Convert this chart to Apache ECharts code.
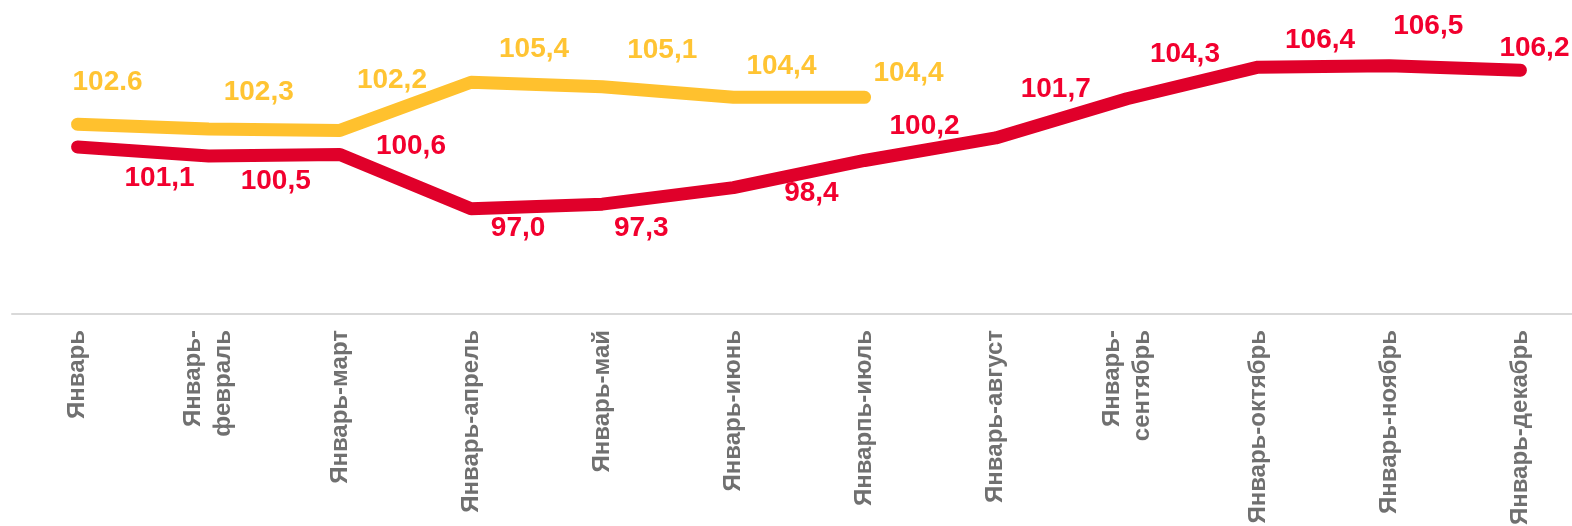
<!DOCTYPE html>
<html>
<head>
<meta charset="utf-8">
<script src="https://cdn.jsdelivr.net/npm/echarts@6/dist/echarts.min.js"></script>
<style>
  html, body { margin: 0; padding: 0; background: #fff; }
  #main { width: 1572px; height: 526px; }
</style>
</head>
<body>
<div id="main"></div>
<script>
const months = [
  'Январь', 'Январь-\nфевраль', 'Январь-март', 'Январь-апрель', 'Январь-май',
  'Январь-июнь', 'Январпь-июль', 'Январь-август', 'Январь-\nсентябрь',
  'Январь-октябрь', 'Январь-ноябрь', 'Январь-декабрь'
];

const yellowValues = [102.6, 102.3, 102.2, 105.4, 105.1, 104.4, 104.4];
const yellowLabels = ['102.6', '102,3', '102,2', '105,4', '105,1', '104,4', '104,4'];

const redValues = [101.1, 100.5, 100.6, 97.0, 97.3, 98.4, 100.2, 101.7, 104.3, 106.4, 106.5, 106.2];
const redLabels = ['101,1', '100,5', '100,6', '97,0', '97,3', '98,4', '100,2', '101,7', '104,3', '106,4', '106,5', '106,2'];

// label nudges (px) relative to each point
const yellowOffsets = [[30, -42], [50, -37], [52, -50], [63, -33], [60, -36], [48, -31], [44, -24]];
const redOffsets = [[82, 31], [67, 25], [71, -8], [47, 20], [39, 24], [78, 6], [60, -34], [60, -49], [58, -45], [62, -27], [39, -39], [14, -22]];

function withLabels(values, texts, offsets) {
  return values.map((v, i) => ({
    value: v,
    label: { offset: offsets[i], formatter: () => texts[i] }
  }));
}

const chart = echarts.init(document.getElementById('main'));

const labelBase = {
  show: true,
  position: 'inside',
  align: 'center',
  verticalAlign: 'middle',
  fontFamily: 'Liberation Sans',
  fontWeight: 'bold',
  fontSize: 28
};

chart.setOption({
  animation: false,
  grid: { left: 12, width: 1574, top: 13, bottom: 212, outerBoundsMode: 'none', containLabel: false },
  xAxis: {
    type: 'category',
    data: months,
    axisLine: { lineStyle: { color: '#d9d9d9', width: 2 } },
    axisTick: { show: false },
    axisLabel: {
      rotate: 90,
      margin: 16,
      color: '#707070',
      fontFamily: 'Liberation Sans',
      fontWeight: 'bold',
      fontSize: 24,
      lineHeight: 30,
      interval: 0
    }
  },
  yAxis: { type: 'value', min: 90, max: 110, show: false },
  series: [
    {
      type: 'line',
      data: withLabels(yellowValues, yellowLabels, yellowOffsets),
      symbol: 'circle',
      symbolSize: 1,
      itemStyle: { color: '#ffc12e' },
      lineStyle: { color: '#ffc12e', width: 13, cap: 'round', join: 'round' },
      label: Object.assign({ color: '#ffc433' }, labelBase)
    },
    {
      type: 'line',
      data: withLabels(redValues, redLabels, redOffsets),
      symbol: 'circle',
      symbolSize: 1,
      itemStyle: { color: '#e0002a' },
      lineStyle: { color: '#e0002a', width: 13, cap: 'round', join: 'round' },
      label: Object.assign({ color: '#f2002e' }, labelBase)
    }
  ]
});
</script>
</body>
</html>
